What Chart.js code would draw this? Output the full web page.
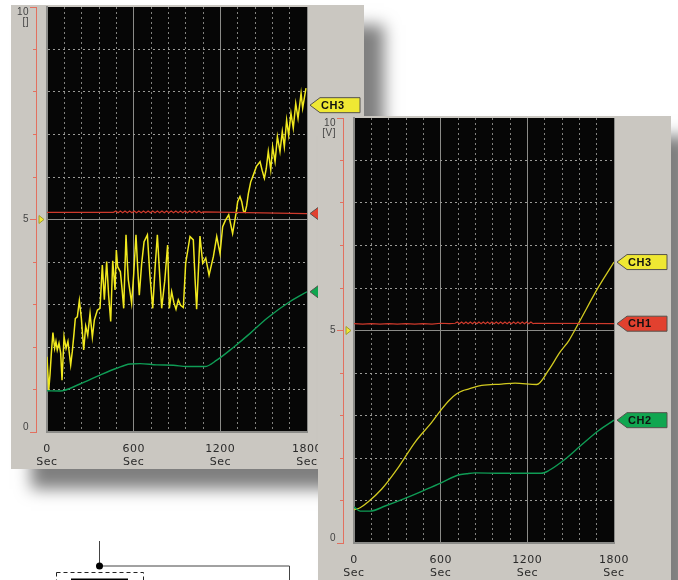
<!DOCTYPE html>
<html>
<head>
<meta charset="utf-8">
<title>CH1 CH2 CH3 recorder traces</title>
<script src="https://cdn.jsdelivr.net/npm/chart.js@4"></script>
<style>
    html, body { margin: 0; background: #fff; overflow: hidden; }
    .panel { position: absolute; background: #cac7c1; }
    #leftPanel { left: 11px; top: 5px; width: 353px; height: 464px; box-shadow: 20px 20px 15px rgba(0, 0, 0, 0.5); z-index: 1; }
    #rightPanel { left: 318px; top: 116px; width: 353px; height: 464px; box-shadow: 20px 20px 15px rgba(0, 0, 0, 0.5); z-index: 2; }
    canvas { display: block; }
    svg { position: absolute; left: 0; top: 530px; }
</style>
</head>
<body>
<svg width="320" height="50">
    <path d="M99.5 11V36H289.5V50" fill="none" stroke="#444" stroke-width="1"/>
    <circle cx="99.5" cy="36" r="3.5" fill="#000"/>
    <rect x="56.5" y="42.5" width="87" height="20" fill="none" stroke="#222" stroke-dasharray="4 3"/>
    <path d="M71 49.5H128" stroke="#000" stroke-width="2"/>
</svg>
<div class="panel" id="leftPanel"><canvas id="leftChart" width="353" height="464"></canvas></div>
<div class="panel" id="rightPanel"><canvas id="rightChart" width="353" height="464"></canvas></div>
<script>
const xTickLabels = { 0: ['0', 'Sec'], 600: ['600', 'Sec'], 1200: ['1200', 'Sec'], 1800: ['1800', 'Sec'] };

// left recorder, noisy CH3
const leftCh3Sec = [0, 12, 21, 30, 41, 53, 62, 71, 83, 95, 104, 118, 132, 145, 164, 175, 187, 196, 210, 224, 238, 254, 268, 282, 298, 314, 328, 349, 367, 383, 397, 413, 427, 441, 455, 471, 480, 489, 508, 520, 531, 547, 555, 563, 586, 600, 616, 628, 639, 655, 672, 695, 712, 732, 748, 764, 780, 794, 815, 835, 847, 863, 878, 893, 909, 925, 944, 960, 990, 1013, 1025, 1036, 1059, 1078, 1099, 1122, 1152, 1175, 1198, 1216, 1235, 1258, 1285, 1309, 1320, 1336, 1348, 1360, 1371, 1382, 1394, 1410, 1429, 1450, 1475, 1490, 1505, 1518, 1532, 1549, 1562, 1579, 1595, 1613, 1629, 1643, 1659, 1673, 1689, 1705, 1722, 1738, 1759, 1770, 1793];
const leftCh3Volt = [1.77, 0.99, 1.36, 1.85, 2.34, 1.97, 2.13, 1.93, 2.09, 1.85, 1.22, 2.24, 1.97, 2.13, 1.58, 1.89, 2.32, 2.67, 2.71, 3.09, 2.67, 1.93, 2.49, 2.28, 2.79, 2.23, 2.64, 2.87, 2.91, 3.93, 3.11, 4.01, 3.20, 2.60, 4.03, 3.34, 4.28, 3.89, 3.77, 3.35, 2.91, 4.64, 4.05, 3.58, 3.03, 3.70, 4.64, 3.85, 3.22, 3.95, 4.48, 4.64, 3.70, 2.91, 3.85, 4.64, 3.70, 2.91, 3.55, 4.40, 2.91, 3.30, 3.05, 2.89, 3.11, 2.98, 2.93, 3.97, 4.60, 4.52, 3.60, 2.89, 4.61, 3.97, 4.09, 3.69, 4.13, 4.60, 4.20, 4.83, 4.98, 5.11, 4.67, 5.15, 5.42, 5.54, 5.42, 5.20, 5.17, 5.32, 5.61, 5.88, 6.05, 6.25, 6.36, 6.15, 5.97, 6.20, 6.60, 6.17, 6.71, 6.36, 6.95, 6.60, 7.07, 6.71, 7.34, 6.99, 7.50, 7.15, 7.73, 7.38, 7.97, 7.62, 8.09];

const leftCh1Sec = [0, 400, 460, 476, 492, 508, 524, 540, 556, 572, 588, 604, 620, 636, 652, 668, 684, 700, 716, 732, 748, 764, 780, 796, 812, 828, 844, 860, 876, 892, 908, 924, 940, 956, 972, 988, 1004, 1020, 1036, 1052, 1068, 1080, 1800];
const leftCh1Volt = [5.17, 5.17, 5.17, 5.20, 5.16, 5.20, 5.16, 5.20, 5.16, 5.20, 5.16, 5.20, 5.16, 5.20, 5.16, 5.20, 5.16, 5.20, 5.16, 5.20, 5.16, 5.20, 5.16, 5.20, 5.16, 5.20, 5.16, 5.20, 5.16, 5.20, 5.16, 5.20, 5.16, 5.20, 5.16, 5.20, 5.16, 5.20, 5.16, 5.20, 5.16, 5.18, 5.14];

const leftCh2Sec = [0, 90, 228, 367, 482, 575, 644, 759, 875, 967, 1094, 1175, 1290, 1406, 1521, 1683, 1800];
const leftCh2Volt = [0.97, 0.965, 1.13, 1.34, 1.50, 1.60, 1.61, 1.58, 1.57, 1.54, 1.54, 1.69, 1.99, 2.32, 2.67, 3.07, 3.30];

// right recorder, clean CH3
const rightCh3Sec = [0, 42, 99, 192, 307, 422, 538, 607, 660, 711, 750, 792, 884, 1022, 1115, 1265, 1346, 1426, 1489, 1553, 1692, 1800];
const rightCh3Volt = [0.78, 0.83, 0.97, 1.27, 1.78, 2.37, 2.84, 3.15, 3.36, 3.51, 3.58, 3.62, 3.71, 3.74, 3.76, 3.73, 4.06, 4.49, 4.77, 5.16, 6.02, 6.61];

const rightCh1Sec = [0, 60, 120, 180, 240, 300, 360, 420, 480, 540, 600, 660, 700, 715, 730, 745, 760, 775, 790, 805, 820, 835, 850, 865, 880, 895, 910, 925, 940, 955, 970, 985, 1000, 1015, 1030, 1045, 1060, 1075, 1090, 1105, 1120, 1135, 1150, 1165, 1180, 1195, 1210, 1225, 1240, 1255, 1800];
const rightCh1Volt = [5.16, 5.15, 5.16, 5.15, 5.16, 5.15, 5.16, 5.15, 5.16, 5.15, 5.17, 5.16, 5.17, 5.20, 5.16, 5.20, 5.16, 5.20, 5.16, 5.20, 5.16, 5.20, 5.16, 5.20, 5.16, 5.20, 5.16, 5.20, 5.16, 5.20, 5.16, 5.20, 5.16, 5.20, 5.16, 5.20, 5.16, 5.20, 5.16, 5.20, 5.16, 5.20, 5.16, 5.20, 5.16, 5.20, 5.16, 5.20, 5.16, 5.17, 5.16];

const rightCh2Sec = [0, 42, 111, 215, 353, 492, 607, 722, 780, 838, 1022, 1207, 1295, 1346, 1461, 1576, 1692, 1800];
const rightCh2Volt = [0.85, 0.75, 0.75, 0.87, 1.05, 1.25, 1.42, 1.60, 1.63, 1.65, 1.64, 1.64, 1.64, 1.70, 1.97, 2.31, 2.64, 2.89];

const traceRed = '#cf3a2c';
const traceGreen = '#0f9c55';
const tagRed = '#e2412f';
const tagGreen = '#10a650';
const tagYellow = '#efe833';

function zip(secs, volts) {
    return secs.map((s, i) => ({ x: s, y: volts[i] }));
}

// black plot area plus the channel flags on the right and the small 5V marker on the left
const recorderPlugin = {
    id: 'recorder',
    beforeDraw(chart) {
        const a = chart.chartArea;
        chart.ctx.fillStyle = '#060606';
        chart.ctx.fillRect(a.left, a.top, a.width, a.height);
        chart.ctx.letterSpacing = '0.5px';
    },
    afterDraw(chart, args, opts) {
        const ctx = chart.ctx;
        const a = chart.chartArea;
        const y = chart.scales.y;
        ctx.save();
        const y5 = y.getPixelForValue(5);
        ctx.fillStyle = tagYellow;
        ctx.strokeStyle = '#a09a30';
        ctx.beginPath();
        ctx.moveTo(a.left - 3, y5);
        ctx.lineTo(a.left - 8, y5 - 4);
        ctx.lineTo(a.left - 8, y5 + 4);
        ctx.closePath();
        ctx.fill();
        ctx.stroke();
        opts.tags.forEach(tag => {
            const py = y.getPixelForValue(tag.value);
            const tip = a.right + 3;
            ctx.fillStyle = tag.color;
            ctx.strokeStyle = '#55524c';
            ctx.beginPath();
            ctx.moveTo(tip, py);
            ctx.lineTo(tip + 10, py - 7.5);
            ctx.lineTo(tip + 50, py - 7.5);
            ctx.lineTo(tip + 50, py + 7.5);
            ctx.lineTo(tip + 10, py + 7.5);
            ctx.closePath();
            ctx.fill();
            ctx.stroke();
            if (tag.label) {
                ctx.fillStyle = '#111';
                ctx.font = 'bold 11px "Liberation Sans"';
                ctx.textBaseline = 'middle';
                ctx.fillText(tag.label, tip + 11, py + 0.5);
            }
        });
        ctx.restore();
    }
};

function drawRecorder(id, traces, unitLabel, tags) {
    const yLabels = { 0: ['0', ''], 5: '5', 10: ['', '', '10', unitLabel] };
    return new Chart(document.getElementById(id), {
        type: 'scatter',
        data: { datasets: traces },
        plugins: [recorderPlugin],
        options: {
            responsive: false,
            animation: false,
            showLine: true,
            layout: { padding: { top: 2, right: 57, bottom: 0, left: 0 } },
            plugins: {
                legend: { display: false },
                tooltip: { enabled: false },
                recorder: { tags: tags }
            },
            elements: { point: { radius: 0 }, line: { tension: 0 } },
            scales: {
                x: {
                    type: 'linear',
                    min: 0,
                    max: 1800,
                    afterFit: scale => { scale.height = 37; },
                    afterBuildTicks: scale => {
                        scale.ticks = [];
                        for (let s = 0; s <= 1800; s += 120) scale.ticks.push({ value: s });
                    },
                    grid: {
                        drawTicks: false,
                        color: ctx => (ctx.tick && ctx.tick.value % 600 === 0 ? '#8b8b88' : '#82827f')
                    },
                    border: {
                        color: '#8b8b88',
                        width: 2,
                        dash: ctx => (ctx.tick && ctx.tick.value % 600 === 0 ? [] : [2, 3])
                    },
                    ticks: {
                        autoSkip: false,
                        maxRotation: 0,
                        padding: 10.5,
                        color: '#2a2a2a',
                        font: { family: '"DejaVu Sans"', size: 11, lineHeight: 1.2 },
                        callback: value => xTickLabels[value] || ''
                    }
                },
                y: {
                    min: 0,
                    max: 10,
                    weight: 0,
                    afterFit: scale => { scale.width = 11; },
                    grid: {
                        drawTicks: false,
                        color: ctx => {
                            if (ctx.tick && ctx.tick.value === 10) return 'rgba(0,0,0,0)';
                            return ctx.tick && (ctx.tick.value === 5 || ctx.tick.value === 0) ? '#8b8b88' : '#9a9a97';
                        }
                    },
                    border: {
                        color: '#8b8b88',
                        width: 2,
                        dash: ctx => (ctx.tick && (ctx.tick.value === 5 || ctx.tick.value === 0) ? [] : [2, 3])
                    },
                    ticks: { display: false, stepSize: 1 }
                },
                yRuler: {
                    position: 'left',
                    min: 0,
                    max: 10,
                    weight: 1,
                    afterFit: scale => {
                        scale.width = 25;
                        scale.paddingTop = 0;
                        scale.paddingBottom = 0;
                    },
                    grid: {
                        drawOnChartArea: false,
                        tickLength: 6,
                        tickColor: '#e2705f',
                        tickBorderDash: ctx => (ctx.tick && ctx.tick.value % 5 === 0 ? [] : [0, 3, 3, 0])
                    },
                    border: { color: '#e2705f' },
                    ticks: {
                        stepSize: 1,
                        autoSkip: false,
                        padding: 1,
                        color: '#444',
                        font: { family: '"Liberation Sans"', size: 10, lineHeight: 1 },
                        callback: value => yLabels[value] || ''
                    }
                }
            }
        }
    });
}

document.addEventListener('DOMContentLoaded', () => {
    drawRecorder('leftChart', [
        { label: 'CH1', data: zip(leftCh1Sec, leftCh1Volt), borderColor: traceRed, borderWidth: 1.2 },
        { label: 'CH2', data: zip(leftCh2Sec, leftCh2Volt), borderColor: traceGreen, borderWidth: 1.4, cubicInterpolationMode: 'monotone' },
        { label: 'CH3', data: zip(leftCh3Sec, leftCh3Volt), borderColor: '#f0e81e', borderWidth: 1.5 }
    ], '[]', [
        { label: 'CH3', value: 7.69, color: tagYellow },
        { label: '', value: 5.14, color: tagRed },
        { label: '', value: 3.3, color: tagGreen }
    ]);
    drawRecorder('rightChart', [
        { label: 'CH1', data: zip(rightCh1Sec, rightCh1Volt), borderColor: traceRed, borderWidth: 1.2 },
        { label: 'CH2', data: zip(rightCh2Sec, rightCh2Volt), borderColor: traceGreen, borderWidth: 1.4, cubicInterpolationMode: 'monotone' },
        { label: 'CH3', data: zip(rightCh3Sec, rightCh3Volt), borderColor: '#d2ca20', borderWidth: 1.3, cubicInterpolationMode: 'monotone' }
    ], '[V]', [
        { label: 'CH3', value: 6.61, color: tagYellow },
        { label: 'CH1', value: 5.16, color: tagRed },
        { label: 'CH2', value: 2.89, color: tagGreen }
    ]);
});
</script>
</body>
</html>
